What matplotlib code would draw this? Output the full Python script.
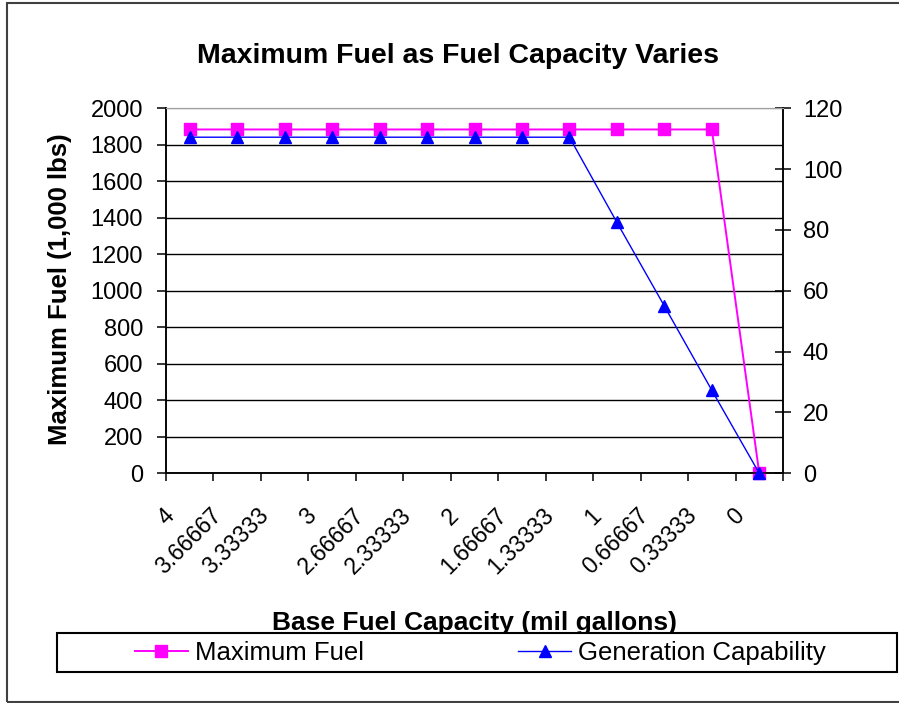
import numpy as np
import matplotlib
matplotlib.use('Agg')
import matplotlib.pyplot as plt
import matplotlib.transforms as mtransforms
from matplotlib.patches import Rectangle

plt.rcParams['font.family'] = ['Liberation Sans', 'DejaVu Sans']

# data
capacity_labels = ['4', '3.66667', '3.33333', '3', '2.66667', '2.33333', '2',
                   '1.66667', '1.33333', '1', '0.66667', '0.33333', '0']
max_fuel = [1884, 1884, 1884, 1884, 1884, 1884, 1884, 1884, 1884, 1884, 1884, 1884, 0]
gen_capability = [110.5, 110.5, 110.5, 110.5, 110.5, 110.5, 110.5, 110.5, 110.5,
                  82.5, 55.0, 27.3, 0]

W, H = 899, 703
fig = plt.figure(figsize=(W / 100, H / 100), dpi=100)


def fx(px):
    return px / W


def fy(py):
    return 1 - py / H


ax = fig.add_axes([fx(166), fy(473.3), fx(783) - fx(166), fy(108.3) - fy(473.3)])
ax2 = ax.twinx()

x = np.arange(len(capacity_labels))
ax.plot(x, max_fuel, color='#ff00ff', lw=1.4, marker='s', ms=8.2,
        mec='#ff00ff', mfc='#ff00ff', zorder=3, clip_on=False)
ax2.plot(x, gen_capability, color='#0000ff', lw=1.0, marker='^', ms=8.5,
         mec='#0000ff', mfc='#0000ff', zorder=3, clip_on=False)

ax.set_xlim(-0.5, len(capacity_labels) - 0.5)
ax.set_ylim(0, 2000)
ax2.set_ylim(0, 120)

# left axis
ax.set_yticks(np.arange(0, 2001, 200))
ax.tick_params(axis='y', direction='out', length=6.5, width=1.1, pad=10,
               labelsize=17, colors='black')
ax.grid(axis='y', color='black', lw=1.0)
ax.set_axisbelow(True)
ax.yaxis.get_gridlines()[-1].set_color('#a0a0a0')

# x axis: marks at category boundaries, labels at centres
ax.set_xticks(np.arange(-0.5, len(capacity_labels), 1.0))
ax.set_xticklabels([])
ax.tick_params(axis='x', which='major', direction='out', length=6, width=1.1)
ax.set_xticks(x, minor=True)
ax.set_xticklabels(capacity_labels, minor=True, rotation=45, ha='right', va='top',
                   fontsize=16.5)
ax.tick_params(axis='x', which='minor', length=0, pad=22)
shift = mtransforms.ScaledTranslation(-11 / 100, 0, fig.dpi_scale_trans)
for lab in ax.get_xticklabels(minor=True):
    lab.set_transform(lab.get_transform() + shift)

# right axis
ax2.set_yticks(np.arange(0, 121, 20))
ax2.tick_params(axis='y', direction='inout', length=11.5, width=1.1, pad=8.6,
                labelsize=17, colors='black')

for a in (ax, ax2):
    a.spines['top'].set_color('#a0a0a0')
    a.spines['left'].set_linewidth(1.1)
    a.spines['bottom'].set_linewidth(1.1)
    a.spines['right'].set_linewidth(1.1)

# titles
fig.text(fx(458), fy(63), 'Maximum Fuel as Fuel Capacity Varies', ha='center',
         va='baseline', fontsize=20.5, fontweight='bold')
fig.text(fx(60), fy(289), 'Maximum Fuel (1,000 lbs)', rotation=90, ha='center',
         va='center', fontsize=18.5, fontweight='bold')
fig.text(fx(474.5), fy(630), 'Base Fuel Capacity (mil gallons)', ha='center',
         va='baseline', fontsize=19, fontweight='bold', zorder=1)

# legend box (drawn over the lower part of the x title, as in the source)
fig.patches.append(Rectangle((fx(57.3), fy(671.7)), fx(896.7) - fx(57.3),
                             fy(633.3) - fy(671.7), transform=fig.transFigure,
                             facecolor='white', edgecolor='black', lw=1.5, zorder=2))
h1, = ax.get_lines()
h2, = ax2.get_lines()
leg = fig.legend([h1, h2], ['Maximum Fuel', 'Generation Capability'],
                 loc='center left', bbox_to_anchor=(fx(135), fy(653)), ncol=2,
                 frameon=False, fontsize=18.5, handlelength=2.06, handletextpad=0.27,
                 columnspacing=6.0, borderpad=0, borderaxespad=0, markerscale=1.0)
leg.set_zorder(3)

# chart area border
fig.patches.append(Rectangle((fx(7), fy(702)), 1.2, fy(3) - fy(702),
                             transform=fig.transFigure, fill=False,
                             edgecolor='#404040', lw=1.5, zorder=0))

fig.savefig('out.png', dpi=100, facecolor='white')
